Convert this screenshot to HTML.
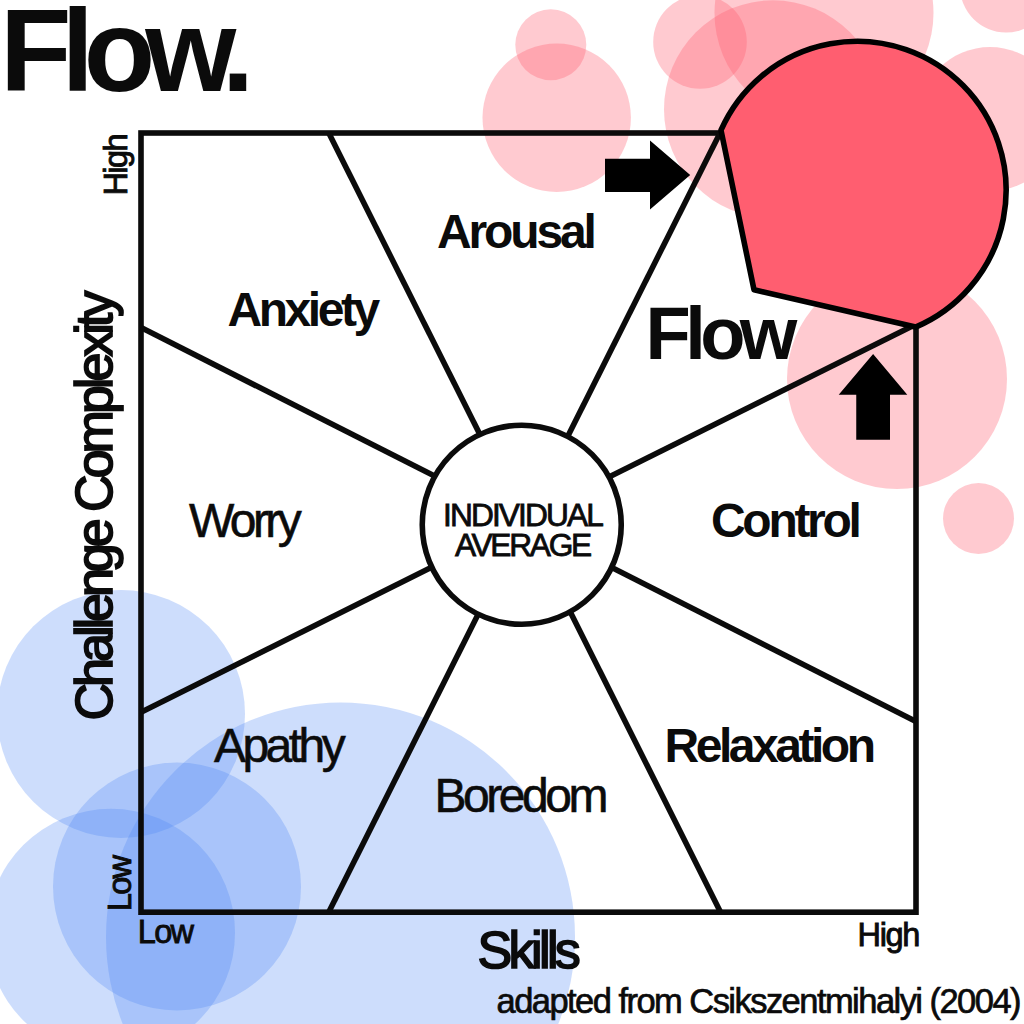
<!DOCTYPE html>
<html lang="en"><head><meta charset="utf-8"><title>Flow.</title>
<style>
html,body{margin:0;padding:0;background:#fff;}
body{width:1024px;height:1024px;overflow:hidden;}
svg{display:block;}
text{font-family:"Liberation Sans", sans-serif;fill:#0b0b0b;}
</style></head><body>
<svg width="1024" height="1024" viewBox="0 0 1024 1024">
<rect width="1024" height="1024" fill="#fff"/>
<g fill="#ff5e70" fill-opacity="0.33">
<circle cx="550.8" cy="44.8" r="35.5"/>
<circle cx="556.7" cy="117.7" r="74.2"/>
<circle cx="700" cy="41.9" r="46.8"/>
<circle cx="773" cy="109.3" r="109"/>
<circle cx="824" cy="13" r="109.5"/>
<circle cx="1006" cy="-13.5" r="46"/>
<circle cx="990" cy="119" r="72"/>
<circle cx="897" cy="379" r="110"/>
<circle cx="978.5" cy="518.5" r="35.5"/>
</g>
<g fill="#4d86f5" fill-opacity="0.28">
<circle cx="121" cy="714" r="124"/>
<circle cx="177" cy="886.5" r="124"/>
<circle cx="111" cy="932.75" r="124"/>
<circle cx="340.5" cy="937" r="234.5"/>
</g>
<g fill="none" stroke="#0b0b0b" stroke-width="5.6">
<rect x="141" y="133" width="775" height="779.2"/>
<line x1="525" y1="524.5" x2="328.8" y2="133"/>
<line x1="523.5" y1="524.5" x2="720" y2="133"/>
<line x1="522.5" y1="520.5" x2="141" y2="327.6"/>
<line x1="522.5" y1="522" x2="141" y2="712.2"/>
<line x1="523.2" y1="524.5" x2="328.7" y2="912.2"/>
<line x1="526.5" y1="524.5" x2="720.6" y2="912.2"/>
<line x1="522.5" y1="522.3" x2="916" y2="721.6"/>
<line x1="522.5" y1="520" x2="916" y2="324.3"/>
</g>
<circle cx="521.75" cy="524.75" r="99.5" fill="#fff" stroke="#0b0b0b" stroke-width="5.6"/>
<path d="M721,130.2 A148.86,148.86 0 1 1 915.6,327.1 L754,289.75 Z" fill="#ff5e70" stroke="#000" stroke-width="5.6" stroke-linejoin="round"/>
<polygon points="605,158.75 650,158.75 650,140.4 690.2,174.9 650,209.4 650,191.9 605,191.9" fill="#000"/>
<polygon points="873.1,354 907.3,394.75 890,394.75 890,439.75 856.25,439.75 856.25,394.75 838.7,394.75" fill="#000"/>
<text x="0.1" y="90.5" font-size="117" font-weight="bold" letter-spacing="-10.1">Flow.</text>
<text x="437" y="248.3" font-size="48" font-weight="bold" letter-spacing="-3.15">Arousal</text>
<text x="227.5" y="325.7" font-size="48" font-weight="bold" letter-spacing="-3.45">Anxiety</text>
<text x="645.5" y="358.75" font-size="74" font-weight="bold" letter-spacing="-5.55">Flow</text>
<text x="711" y="537.3" font-size="48" font-weight="bold" letter-spacing="-3.3">Control</text>
<text x="664.5" y="761.9" font-size="48" font-weight="bold" letter-spacing="-3.47">Relaxation</text>
<text x="189" y="537.3" font-size="48" font-weight="normal" letter-spacing="-3.6" stroke="#0b0b0b" stroke-width="0.6">Worry</text>
<text x="214" y="761.9" font-size="48" font-weight="normal" letter-spacing="-3.55" stroke="#0b0b0b" stroke-width="0.6">Apathy</text>
<text x="434.5" y="812.3" font-size="48" font-weight="normal" letter-spacing="-3.45" stroke="#0b0b0b" stroke-width="0.6">Boredom</text>
<text x="477.5" y="968.1" font-size="52" font-weight="normal" letter-spacing="-3.6" stroke="#0b0b0b" stroke-width="1.7">Skills</text>
<text x="137.8" y="942.8" font-size="32.5" font-weight="normal" letter-spacing="-1.7" stroke="#0b0b0b" stroke-width="0.9">Low</text>
<text x="857.5" y="946" font-size="32.5" font-weight="normal" letter-spacing="-1.3" stroke="#0b0b0b" stroke-width="0.9">High</text>
<text x="496.5" y="1012.7" font-size="34.5" font-weight="normal" letter-spacing="-1.545" stroke="#0b0b0b" stroke-width="0.7">adapted from Csikszentmihalyi (2004)</text>
<text x="443" y="526.1" font-size="31.7" font-weight="normal" letter-spacing="-1.88" stroke="#0b0b0b" stroke-width="0.8">INDIVIDUAL</text>
<text x="455" y="556.2" font-size="31.7" font-weight="normal" letter-spacing="-2.28" stroke="#0b0b0b" stroke-width="0.8">AVERAGE</text>
<text transform="translate(126.9 195.5) rotate(-90)" font-size="32.5" font-weight="normal" letter-spacing="-1.6" stroke="#0b0b0b" stroke-width="0.9">High</text>
<text transform="translate(131.0 911.2) rotate(-90)" font-size="32.5" font-weight="normal" letter-spacing="-1.7" stroke="#0b0b0b" stroke-width="0.9">Low</text>
<text transform="translate(112.0 720.5) rotate(-90)" font-size="52" font-weight="normal" letter-spacing="-4.0" stroke="#0b0b0b" stroke-width="1.7">Challenge Complexity</text>
</svg>
</body></html>
